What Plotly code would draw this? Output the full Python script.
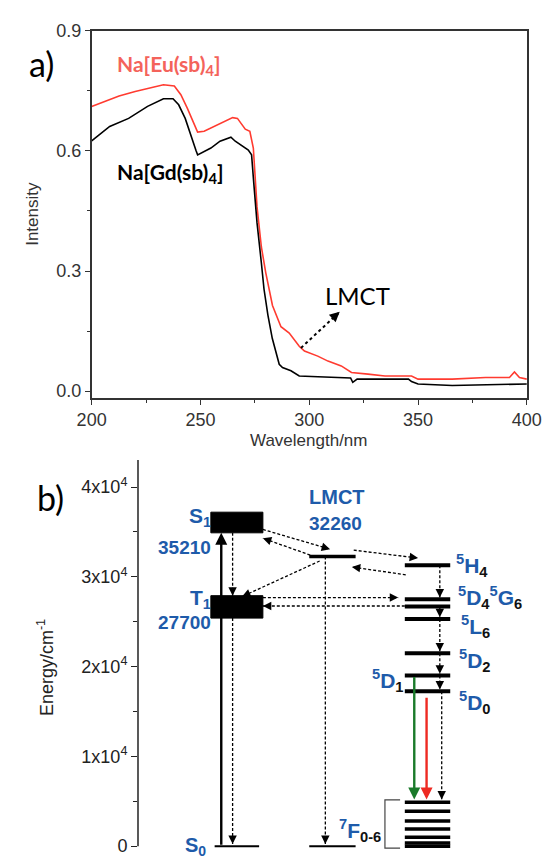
import math
import plotly.graph_objects as go

W, H = 557, 860

# ---------------- data: panel a (absorption spectra) ----------------
eu_wl = [200, 205, 212.6, 220, 225.7, 233, 238, 241, 244, 248.7, 251.7, 257.5, 264.8, 267,
         270.6, 272.7, 274.3, 276, 278, 280, 283.1, 287, 290.8, 295.4, 297.8, 303.9, 308.6,
         314.7, 319.4, 327, 334.8, 347, 350, 365.7, 381, 392, 394.3, 396.6, 400]
eu_int = [0.711, 0.722, 0.737, 0.748, 0.755, 0.765, 0.762, 0.74, 0.706, 0.647, 0.649, 0.664,
          0.683, 0.681, 0.654, 0.649, 0.607, 0.46, 0.36, 0.296, 0.214, 0.161, 0.145, 0.112,
          0.1, 0.0875, 0.075, 0.063, 0.0466, 0.0425, 0.038, 0.038, 0.030, 0.030, 0.034, 0.034,
          0.048, 0.034, 0.030]
gd_wl = [200, 208.3, 217, 225.7, 233, 237.4, 240, 243, 248, 248.7, 254.8, 259, 264, 266, 272,
         273.5, 274.5, 276, 278, 279.2, 281, 283, 286.2, 287.7, 291.6, 295.4, 304, 319, 320,
         322, 335, 345.6, 347, 350, 365.7, 380, 400]
gd_int = [0.625, 0.661, 0.681, 0.711, 0.730, 0.730, 0.715, 0.681, 0.600, 0.590, 0.607, 0.624,
          0.634, 0.624, 0.602, 0.590, 0.52, 0.42, 0.32, 0.255, 0.19, 0.132, 0.067, 0.059,
          0.051, 0.038, 0.036, 0.033, 0.022, 0.030, 0.030, 0.030, 0.024, 0.018, 0.014, 0.016,
          0.018]
xa_ticks = [200, 250, 300, 350, 400]
ya_ticks = [0.0, 0.3, 0.6, 0.9]
lmct_arrow_a = [(296.2, 0.108), (314.0, 0.198)]

# ---------------- data: panel b (energy levels, cm-1) ----------------
yb_ticks = [0, 10000, 20000, 30000, 40000]
yb_ticktext = ["0", "1x10<sup>4</sup>", "2x10<sup>4</sup>", "3x10<sup>4</sup>", "4x10<sup>4</sup>"]
s1_box = [34900, 37200]
t1_box = [25400, 27900]
s1_value = "35210"
t1_value = "27700"
lmct_level = 32260
s0_level = 0
eu_names = ["5H4", "5D4", "5G6", "5L6", "5D2", "5D1", "5D0"]
eu_energy = [31300, 27500, 26700, 25300, 21500, 19000, 17250]
f7_energy = [0, 350, 1000, 1900, 2800, 3900, 4900]

# ---------------- geometry / style ----------------
BLUE = "#1E5BAA"
RED_LINE = "#ff3b30"
RED_LABEL = "#f4635b"
FONT = "Liberation Sans, Arial"
CAL = "Lato, Open Sans"

# panel a plot area (pixels)
A_L, A_R, A_T, A_B = 81, 541, 21, 394
# panel b plot area (pixels)
B_L, B_R, B_T, B_B = 130, 545, 457, 856.3
B_RANGE = [-800, 43000]
PX_PER_E = (B_B - B_T) / (B_RANGE[1] - B_RANGE[0])
A_SX = (A_R - A_L) / 200.0
A_SY = (A_B - A_T) / (0.9 + 0.0172)

# panel b column positions (pixel-based x units)
X_BOX = (207, 262)
X_S0 = (211, 258)
X_LMCT = (311, 360)
X_EU = (412, 460)

fig = go.Figure()

fig.add_trace(go.Scatter(x=eu_wl, y=eu_int, mode="lines", line=dict(color=RED_LINE, width=1.6),
                         xaxis="x", yaxis="y", showlegend=False, hoverinfo="skip"))
fig.add_trace(go.Scatter(x=gd_wl, y=gd_int, mode="lines", line=dict(color="black", width=1.6),
                         xaxis="x", yaxis="y", showlegend=False, hoverinfo="skip"))
fig.add_trace(go.Scatter(x=[X_EU[0]] * len(eu_energy), y=eu_energy, mode="markers",
                         marker=dict(size=0.1, opacity=0), xaxis="x2", yaxis="y2",
                         showlegend=False, hoverinfo="skip"))

shapes = []
annots = []


def hline(x0, x1, y, width, color="black"):
    shapes.append(dict(type="line", xref="x2", yref="y2", x0=x0, x1=x1, y0=y, y1=y,
                       line=dict(color=color, width=width), layer="above"))


def head(x1, y1, dxp, dyp, xr, yr, color, width, size, length=6):
    L = math.hypot(dxp, dyp)
    ux, uy = dxp / L, dyp / L
    annots.append(dict(x=x1, y=y1, xref=xr, yref=yr, ax=-ux * length, ay=-uy * length,
                       text="", showarrow=True, arrowhead=2, arrowsize=size, arrowwidth=width,
                       arrowcolor=color, standoff=0, startstandoff=0))


def dashed_arrow(x0, y0, x1, y1, xr="x2", yr="y2", sx=1.0, sy=PX_PER_E, dash="3px,2px",
                 color="black", width=1.3, size=1.3):
    shapes.append(dict(type="line", xref=xr, yref=yr, x0=x0, y0=y0, x1=x1, y1=y1,
                       line=dict(color=color, width=width, dash=dash), layer="above"))
    head(x1, y1, (x1 - x0) * sx, -(y1 - y0) * sy, xr, yr, color, width, size)


def solid_arrow(x0, y0, x1, y1, color, width=2.4):
    annots.append(dict(x=x1, y=y1, xref="x2", yref="y2", ax=x0, ay=y0, axref="x2", ayref="y2",
                       text="", showarrow=True, arrowhead=2, arrowsize=1.0, arrowwidth=width,
                       arrowcolor=color, standoff=0))


def ptext(xp, yp, text, size, color="black", family=FONT, angle=0, xanchor="center"):
    annots.append(dict(x=xp / W, y=1 - yp / H, xref="paper", yref="paper", text=text,
                       showarrow=False, xanchor=xanchor, yanchor="middle", textangle=angle,
                       font=dict(family=family, size=size, color=color)))


# ---- panel b levels ----
for box in (s1_box, t1_box):
    shapes.append(dict(type="rect", xref="x2", yref="y2", x0=X_BOX[0], x1=X_BOX[1],
                       y0=box[0], y1=box[1], fillcolor="black", line=dict(color="black", width=1)))
hline(X_S0[0], X_S0[1], s0_level, 2)
hline(X_LMCT[0], X_LMCT[1], lmct_level, 3.5)
hline(X_LMCT[0], X_LMCT[1], s0_level, 2)
for e in eu_energy:
    hline(X_EU[0], X_EU[1], e, 4)
for e in f7_energy:
    hline(X_EU[0], X_EU[1], e, 3.5)

# 7F bracket
shapes.append(dict(type="path", xref="x2", yref="y2",
                   path=f"M {X_EU[0]-5},{f7_energy[-1]+260} L 391,{f7_energy[-1]+260} "
                        f"L 391,{f7_energy[0]-220} L {X_EU[0]-5},{f7_energy[0]-220}",
                   line=dict(color="#444", width=1.2)))

# y axis line of panel b (from 0 to top)
shapes.append(dict(type="line", xref="paper", yref="paper", x0=B_L / W, x1=B_L / W,
                   y0=1 - (B_B - (0 - B_RANGE[0]) * PX_PER_E) / H, y1=1 - B_T / H,
                   line=dict(color="#222", width=1.5)))

# arrows panel b
solid_arrow(218, s0_level, 218, s1_box[0], "black", 2.4)
dashed_arrow(230, s1_box[0], 230, t1_box[1])
dashed_arrow(230, t1_box[0], 230, s0_level + 250)
dashed_arrow(X_BOX[1], 35270, 333, 33080)
dashed_arrow(312, 32420, X_BOX[1], 34290)
dashed_arrow(322, 31760, 240, t1_box[1] - 100)
dashed_arrow(358, 32970, 426, 32090)
dashed_arrow(413, 30220, 356, 31100)
dashed_arrow(X_BOX[1], 27690, 405, 27690)
dashed_arrow(X_EU[0], 26750, X_BOX[1], 26750)
dashed_arrow(328, lmct_level, 328, s0_level + 250)
# Eu cascade
dashed_arrow(449, eu_energy[0], 449, eu_energy[1] + 200)
dashed_arrow(449, eu_energy[2], 449, eu_energy[3] + 200)
dashed_arrow(449, eu_energy[3], 449, eu_energy[4] + 200)
dashed_arrow(449, eu_energy[4], 449, eu_energy[5] + 200)
dashed_arrow(449, eu_energy[5], 449, eu_energy[6] + 200)
dashed_arrow(451, eu_energy[6], 451, f7_energy[-1] + 300)
solid_arrow(422, eu_energy[5], 422, f7_energy[-1] + 300, "#1a7a2a", 2.4)
solid_arrow(435, 16700, 435, f7_energy[-1] + 300, "#ee2a22", 2.4)

# ---- panel b labels ----
def blab(x, y, text, anchor="left", size=21):
    annots.append(dict(x=x, y=y, xref="x2", yref="y2", text=text, showarrow=False,
                       xanchor=anchor, yanchor="middle",
                       font=dict(family=FONT, size=size, color=BLUE)))


def sub(t):
    return f"<sub><span style='color:#111'>{t}</span></sub>"


blab(209, 36700, "<b>S<sub>1</sub></b>", "right")
blab(209, 33300, f"<b>{s1_value}</b>", "right", 19)
blab(209, 27580, "<b>T<sub>1</sub></b>", "right")
blab(209, 24950, f"<b>{t1_value}</b>", "right", 19)
blab(204, 0, "<b>S<sub>0</sub></b>", "right", 20)
blab(309, 38900, "<b>LMCT</b>", "left", 20)
blab(309, 35930, f"<b>{lmct_level}</b>", "left", 19)
blab(464, 31250, "<b><sup>5</sup>H" + sub("4") + "</b>")
blab(466, 27700, "<b><sup>5</sup>D" + sub("4") + "<sup>5</sup>G" + sub("6") + "</b>")
blab(469, 24500, "<b><sup>5</sup>L" + sub("6") + "</b>")
blab(467, 20700, "<b><sup>5</sup>D" + sub("2") + "</b>")
blab(413, 18500, "<b><sup>5</sup>D" + sub("1") + "</b>", "right")
blab(467, 16000, "<b><sup>5</sup>D" + sub("0") + "</b>")
blab(389, 1700, "<b><sup>7</sup>F" + sub("0-6") + "</b>", "right")

# ---- panel a annotations ----
(x0a, y0a), (x1a, y1a) = lmct_arrow_a
dashed_arrow(x0a, y0a, x1a, y1a, xr="x", yr="y", sx=A_SX, sy=A_SY, dash="dot",
             width=2, size=1.0)
annots.append(dict(x=322, y=0.24, xref="x", yref="y", text="LMCT", showarrow=False,
                   xanchor="center", yanchor="middle",
                   font=dict(family=CAL, size=24, color="black")))
ptext(106, 56, "<b>Na[Eu(sb)<sub>4</sub>]</b>", 21, RED_LABEL, CAL, xanchor="left")
ptext(106, 166, "<b>Na[Gd(sb)<sub>4</sub>]</b>", 21, "black", CAL, xanchor="left")

# panel letters and axis titles
ptext(28, 54, "a)", 34, "black", CAL)
ptext(37, 495, "b)", 34, "black", CAL)
ptext(19, 207, "Intensity", 17, "#333", FONT, angle=-90)
ptext(310, 437, "Wavelength/nm", 17, "#333", FONT)
ptext(33, 668, "Energy/cm<sup>-1</sup>", 18, "#222", FONT, angle=-90)

fig.update_layout(
    width=W, height=H, margin=dict(l=0, r=0, t=0, b=0),
    paper_bgcolor="white", plot_bgcolor="white",
    showlegend=False,
    xaxis=dict(domain=[A_L / W, A_R / W], range=[200, 400], anchor="y",
               showline=True, linecolor="#333", linewidth=1.5, mirror=True,
               ticks="outside", ticklen=5, tickwidth=1.2, tickcolor="#333",
               tickvals=xa_ticks, showgrid=False, zeroline=False,
               tickfont=dict(family=FONT, size=18, color="#333"),
               minor=dict(dtick=25, ticks="outside", ticklen=3, tickcolor="#333")),
    yaxis=dict(domain=[1 - A_B / H, 1 - A_T / H], range=[-0.0172, 0.9], anchor="x",
               showline=True, linecolor="#333", linewidth=1.5, mirror=True,
               ticks="outside", ticklen=5, tickwidth=1.2, tickcolor="#333",
               tickvals=ya_ticks, tickformat=".1f", showgrid=False, zeroline=False,
               tickfont=dict(family=FONT, size=18, color="#333"),
               minor=dict(dtick=0.15, ticks="outside", ticklen=3, tickcolor="#333")),
    xaxis2=dict(domain=[B_L / W, B_R / W], range=[B_L, B_R], anchor="y2", visible=False),
    yaxis2=dict(domain=[1 - B_B / H, 1 - B_T / H], range=B_RANGE, anchor="x2",
                showline=False, showgrid=False, zeroline=False,
                ticks="outside", ticklen=6, tickwidth=1.2, tickcolor="#222",
                tickvals=yb_ticks, ticktext=yb_ticktext,
                tickfont=dict(family=FONT, size=18, color="#222"),
                minor=dict(tickvals=[5000, 15000, 25000, 35000], ticks="outside",
                           ticklen=4, tickcolor="#222")),
    shapes=shapes, annotations=annots,
)

fig.write_html("out.html",
               post_script="document.body.style.margin='0';document.body.style.padding='0';"
                           "document.documentElement.style.overflow='hidden';")
